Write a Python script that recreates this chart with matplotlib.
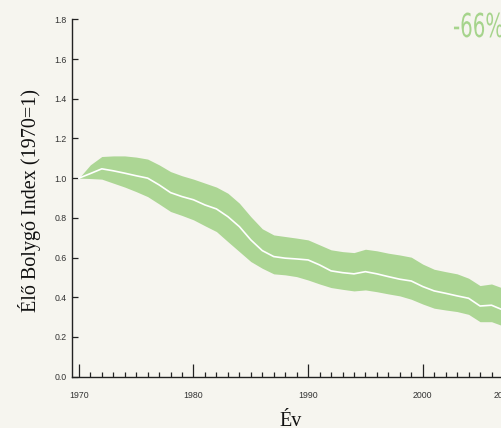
import numpy as np
import matplotlib.pyplot as plt
from matplotlib.ticker import MultipleLocator
from matplotlib.textpath import TextPath
from matplotlib.patches import PathPatch
from matplotlib.font_manager import FontProperties
from matplotlib.transforms import Affine2D

# Élő Bolygó Index, 1970 = 1
years = list(range(1970, 2008))
index = [1.000, 1.023, 1.047, 1.037, 1.025, 1.012, 1.000, 0.966, 0.927, 0.907,
         0.891, 0.865, 0.845, 0.806, 0.756, 0.689, 0.635, 0.605, 0.597, 0.593,
         0.588, 0.563, 0.533, 0.524, 0.518, 0.529, 0.518, 0.504, 0.491, 0.482,
         0.454, 0.432, 0.420, 0.407, 0.395, 0.356, 0.360, 0.336]
upper = [1.000, 1.067, 1.109, 1.112, 1.112, 1.106, 1.096, 1.067, 1.033, 1.012,
         0.995, 0.975, 0.955, 0.924, 0.874, 0.806, 0.745, 0.714, 0.706, 0.698,
         0.689, 0.664, 0.639, 0.630, 0.625, 0.642, 0.634, 0.622, 0.613, 0.602,
         0.567, 0.541, 0.529, 0.518, 0.496, 0.459, 0.467, 0.446]
lower = [1.000, 0.998, 0.995, 0.975, 0.955, 0.932, 0.907, 0.870, 0.832, 0.812,
         0.790, 0.760, 0.731, 0.680, 0.630, 0.580, 0.546, 0.518, 0.513, 0.504,
         0.487, 0.467, 0.449, 0.440, 0.432, 0.437, 0.428, 0.417, 0.407, 0.390,
         0.366, 0.345, 0.336, 0.328, 0.314, 0.277, 0.277, 0.256]
xticks = [1970, 1980, 1990, 2000, 2007]
change_text = "-66%"

plt.rcParams['font.family'] = ['Liberation Sans', 'DejaVu Sans']

bg = "#f6f5ef"
green = "#acd694"
W, H = 502, 428

fig = plt.figure(figsize=(W / 100, H / 100), dpi=100, facecolor=bg)
ax = fig.add_axes([72 / W, 51.3 / H, 439 / W, 357.4 / H], facecolor=bg)

ax.fill_between(years, lower, upper, color=green, linewidth=0)
ax.plot(years, index, color="white", linewidth=1.2)

ax.set_xlim(1969.4, 2007.7)
ax.set_ylim(0, 1.8)

ax.spines["top"].set_visible(False)
ax.spines["right"].set_visible(False)
for s in ["left", "bottom"]:
    ax.spines[s].set_color("#222222")
    ax.spines[s].set_linewidth(1.0)

yt = np.arange(0, 1.81, 0.2)
ax.set_yticks(yt)
ax.set_yticklabels([f"{v:.1f}" for v in yt])
ax.set_xticks(xticks)
ax.set_xticklabels([str(y) for y in xticks])
ax.xaxis.set_minor_locator(MultipleLocator(1))

ax.tick_params(axis="y", direction="in", length=4.5, width=0.9, color="#222222",
               pad=4, labelsize=6.3, labelcolor="#333333")
ax.tick_params(axis="x", which="major", direction="in", length=9.5, width=0.9,
               color="#222222", pad=10.5, labelsize=6.3, labelcolor="#333333")
ax.tick_params(axis="x", which="minor", direction="in", length=3.8, width=0.9,
               color="#222222")

serif = ["Liberation Serif", "DejaVu Serif"]
fig.text(30 / W, 1 - 201 / H, "Élő Bolygó Index (1970=1)", rotation=90,
         ha="center", va="center", fontsize=14.5, family=serif, color="#111111")
fig.text(291 / W, 1 - 426.5 / H, "Év", ha="center", va="baseline",
         fontsize=14.5, family=serif, color="#111111")

# condensed-looking headline number: squeeze a normal font horizontally
tp = TextPath((0, 0), change_text, size=33,
              prop=FontProperties(family="DejaVu Sans"))
squeeze = Affine2D().scale(0.6, 1).translate(453, H - 37)
fig.add_artist(PathPatch(tp, transform=squeeze, facecolor="#a6d48c",
                         edgecolor="none"))

fig.savefig("out.png", dpi=100, facecolor=bg)
